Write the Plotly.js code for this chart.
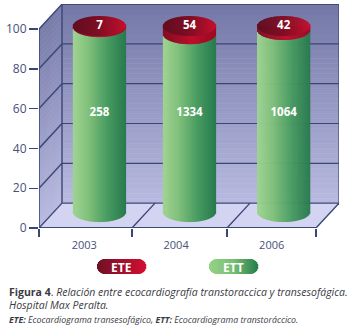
<!DOCTYPE html>
<html><head><meta charset="utf-8">
<script src="https://cdn.plot.ly/plotly-3.0.1.min.js"></script>
<style>html,body{margin:0;padding:0;background:#fff}#c{width:358px;height:328px}</style>
</head><body><div id="c"></div>
<script>
// ---- data ----
const categories = ['2003','2004','2006'];
const ettPercent = [99.4, 95.6, 97.8];   // height of the green part
const etePercent = [0.6, 4.4, 2.2];      // height of the red part
const ettCounts = ['258','1334','1064'];
const eteCounts = ['7','54','42'];
const yTicks = [0,20,40,60,80,100];
const xEdges = [0,1.007,2.036,3];
const labelPos = [0.49,1.485,2.52];
const cylinderPos = [0.655,1.63,2.65];

// ---- geometry helpers ----
const W=358,H=328,L=39,R=339,T=4,B=228,UX=92.33,UY=1.99;
const DX=23/UX, DY=12.5;
const xMax=(R-L)/UX, yMax=(B-T)/UY;
const CYL_HALF=26.5/UX, CYL_RY=10/UY, LIFT=8, SCALE=0.935;
const GREEN=[[0,[160,212,146]],[0.3,[128,192,122]],[0.65,[72,156,98]],[1,[40,122,78]]];
const REDSIDE=[[0,[130,14,34]],[0.55,[190,14,42]],[1,[150,12,34]]];
const REDTOP=[[0,[96,14,32]],[0.5,[128,14,36]],[1,[196,16,46]]];
const WALL=[[0,[184,186,224]],[1,[116,120,166]]];
const INK='#3c4676';
function mix(st,t){for(let i=1;i<st.length;i++){if(t<=st[i][0]){const a=st[i-1],b=st[i],k=(t-a[0])/(b[0]-a[0]);
  return 'rgb('+a[1].map((v,j)=>Math.round(v+(b[1][j]-v)*k)).join(',')+')';}}return 'rgb('+st[st.length-1][1].join(',')+')';}
const yOf=v=>LIFT+v*SCALE;

// ---- cylinders as strips of bars ----
function strips(){
  const ett={x:[],y:[],base:[],width:[],color:[]},side={x:[],y:[],base:[],width:[],color:[]},top={x:[],y:[],base:[],width:[],color:[]};
  const n=53, w=1/UX;
  const push=(o,x,b,t,c)=>{o.x.push(x);o.base.push(b);o.y.push(t-b);o.width.push(w*1.25);o.color.push(c);};
  cylinderPos.forEach((cx,i)=>{
    for(let k=0;k<n;k++){
      const u=(k+0.5)/n, x=cx-CYL_HALF+u*2*CYL_HALF, e=Math.sqrt(1-(2*u-1)*(2*u-1))*CYL_RY;
      const ettTop=yOf(ettPercent[i]), capTop=yOf(ettPercent[i]+etePercent[i]);
      push(ett,x,yOf(0)-e,ettTop-e,mix(GREEN,u));
      push(side,x,ettTop-e,capTop,mix(REDSIDE,u));
      push(top,x,capTop-e,capTop+e,mix(REDTOP,u));
    }
  });
  return [ett,side,top];
}
const traces=strips().map(o=>({type:'bar',x:o.x,y:o.y,base:o.base,width:o.width,
  marker:{color:o.color,line:{width:0}},hoverinfo:'skip',showlegend:false}));
traces.push({type:'scatter',mode:'text',x:cylinderPos,y:ettPercent.map(()=>yOf(100)),text:eteCounts.map(s=>'<b>'+s+'</b>'),
  textfont:{family:'Open Sans',size:11.5,color:'#fff'},hoverinfo:'skip',showlegend:false});
traces.push({type:'scatter',mode:'text',x:cylinderPos,y:ettPercent.map(()=>57.5),text:ettCounts.map(s=>'<b>'+s+'</b>'),
  textfont:{family:'Open Sans',size:11.5,color:'#fff'},hoverinfo:'skip',showlegend:false});

// ---- walls ----
const shapes=[];
const poly=(pts,fill)=>shapes.push({type:'path',layer:'below',xref:'x',yref:'y',
  path:'M'+pts.map(p=>p[0]+','+p[1]).join('L')+'Z',fillcolor:fill,line:{width:0.6,color:fill}});
const seg=(x0,y0,x1,y1,w)=>shapes.push({type:'line',layer:'below',xref:'x',yref:'y',x0,y0,x1,y1,line:{color:INK,width:w||1.4}});
const bands=40;
for(let b=0;b<bands;b++){
  const v0=100*b/bands,v1=100*(b+1)/bands,t=(b+0.5)/bands;
  poly([[DX,DY+v0],[xMax,DY+v0],[xMax,DY+v1],[DX,DY+v1]],mix(WALL,t));
  poly([[0,v0],[DX,DY+v0],[DX,DY+v1],[0,v1]],mix(WALL,Math.min(1,t*0.95)));
}
poly([[0,0],[3,0],[xMax,DY],[DX,DY]],'#d3d4f1');
yTicks.forEach(v=>{ if(v>0) seg(DX,DY+v,xMax,DY+v,1.2); seg(0,v,DX,DY+v,1.4); });
seg(DX,DY,xMax,DY,1.2);
seg(DX,DY,DX,DY+100,1.4); seg(xMax,DY,xMax,DY+100,1.2);
seg(DX,DY+100,xMax,DY+100,1.2);
xEdges.forEach(x=>{ if(x>0) seg(x,0,x+DX,DY,1.4); });
seg(0,0,0,100,1.6); seg(-0.02,0,3,0,1.8);

// ---- legend pills ----
const ann=[];
const px=x=>x/W, py=y=>1-y/H;
function pill(x0,stops,label){
  const w=49,h=15,r=7.5;
  for(let i=0;i<w;i++){
    const c=i+0.5, d=c<r?r-c:(c>w-r?c-(w-r):0), e=Math.sqrt(Math.max(0,r*r-d*d));
    shapes.push({type:'rect',xref:'paper',yref:'paper',layer:'below',x0:px(x0+i),x1:px(x0+i+1.2),
      y0:py(266.5-e),y1:py(266.5+e),fillcolor:mix(stops,c/w),line:{width:0}});
  }
  ann.push({xref:'paper',yref:'paper',x:px(x0+w/2),y:py(267),text:'<b>'+label+'</b>',showarrow:false,xanchor:'center',yanchor:'middle',
    font:{family:'Open Sans',size:12,color:'#fff'}});
}
pill(97,[[0,[110,16,36]],[1,[210,16,50]]],'ETE');
pill(209,[[0,[150,210,136]],[0.5,[120,190,115]],[1,[36,125,75]]],'ETT');

// ---- caption ----
const cap=(y,text,size)=>ann.push({xref:'paper',yref:'paper',x:px(7),y:py(y),text,showarrow:false,xanchor:'left',yanchor:'middle',
  font:{family:'Open Sans',size,color:'#3a3a44'}});
cap(292,'<b>Figura 4</b>. <i>Relación entre ecocardiografía transtoraccica y transesofágica.</i>',10.5);
cap(305,'<i>Hospital Max Peralta.</i>',10.5);
cap(320,'<b><i>ETE:</i></b><i> Ecocardiograma transesofágico, </i><b><i>ETT:</i></b><i> Ecocardiograma transtoráccico.</i>',8.8);

const layout={width:W,height:H,margin:{l:0,r:0,t:0,b:0},paper_bgcolor:'#fff',plot_bgcolor:'rgba(0,0,0,0)',
  barmode:'overlay',showlegend:false,hovermode:false,shapes,annotations:ann,
  font:{family:'Open Sans',color:'#47507a'},
  xaxis:{domain:[L/W,R/W],range:[0,xMax],tickmode:'array',tickvals:labelPos,ticktext:categories,ticks:'',showgrid:false,zeroline:false,showline:false,
    ticklabelstandoff:9,tickfont:{family:'Open Sans',size:11,color:'#47507a'},anchor:'y',
    minor:{tickmode:'array',tickvals:xEdges,ticks:'outside',ticklen:8,tickwidth:1.5,tickcolor:INK,showgrid:false}},
  yaxis:{domain:[1-B/H,1-T/H],range:[0,yMax],tickmode:'array',tickvals:yTicks,ticktext:yTicks.map(String),ticks:'outside',ticklen:9,tickwidth:1.4,tickcolor:INK,
    showgrid:false,zeroline:false,showline:false,tickfont:{family:'Open Sans',size:12,color:'#47507a'},anchor:'x'}};
Plotly.newPlot('c',traces,layout,{staticPlot:true,displayModeBar:false});
</script></body></html>
